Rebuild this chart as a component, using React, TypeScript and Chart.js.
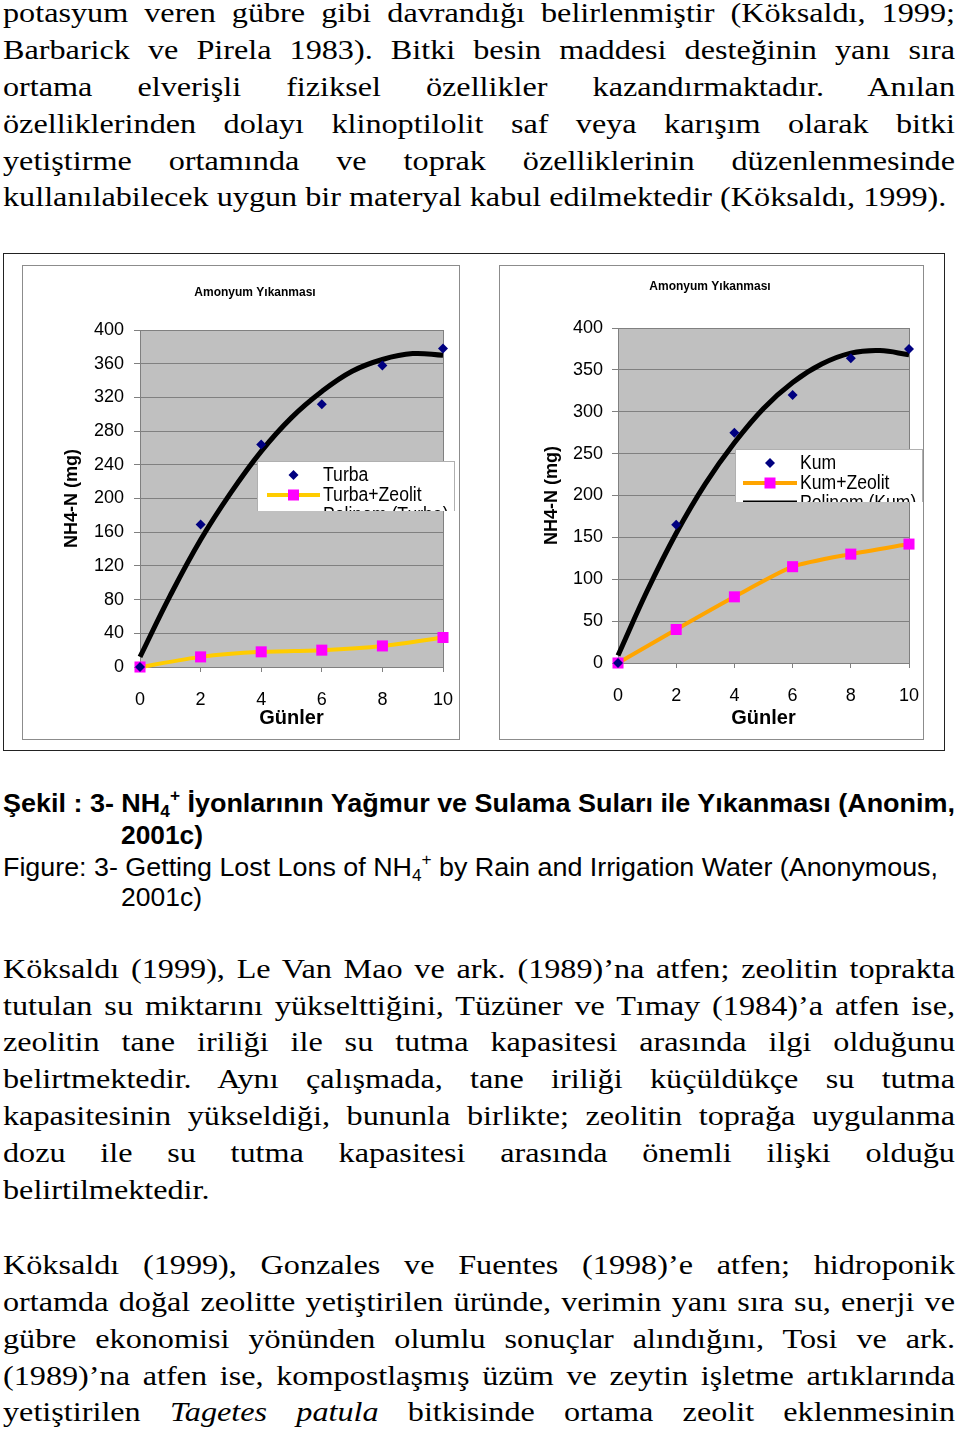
import React, { useEffect, useRef } from 'react';
import { Chart, registerables } from 'chart.js';

Chart.register(...registerables);

// ---------- data ----------
const days = [0, 2, 4, 6, 8, 10];
const trendDays = [0, 1, 2, 3, 4, 5, 6, 7, 8, 9, 10];

const turba = [0, 169, 264, 312, 358, 378];
const turbaZeolit = [0, 12, 18, 20, 25, 35];
const turbaTrend = [12, 85, 151, 207, 256, 296, 327, 351, 365, 372, 370];

const kum = [0, 165, 275, 320, 364, 375];
const kumZeolit = [0, 40, 79, 115, 130, 142];
const kumTrend = [9, 86, 155, 214, 263, 304, 335, 357, 370, 373, 368];

const chartTitle = 'Amonyum Yıkanması';
const xTitle = 'Günler';
const yTitle = 'NH4-N (mg)';

const para1 = [
  'potasyum veren gübre gibi davrandığı belirlenmiştir (Köksaldı, 1999;',
  'Barbarick ve Pirela 1983). Bitki besin maddesi desteğinin yanı sıra',
  'ortama elverişli fiziksel özellikler kazandırmaktadır. Anılan',
  'özelliklerinden dolayı klinoptilolit saf veya karışım olarak bitki',
  'yetiştirme ortamında ve toprak özelliklerinin düzenlenmesinde',
  'kullanılabilecek uygun bir materyal kabul edilmektedir (Köksaldı, 1999).',
];
const para2 = [
  'Köksaldı (1999), Le Van Mao ve ark. (1989)’na atfen; zeolitin toprakta',
  'tutulan su miktarını yükselttiğini, Tüzüner ve Tımay (1984)’a atfen ise,',
  'zeolitin tane iriliği ile su tutma kapasitesi arasında ilgi olduğunu',
  'belirtmektedir. Aynı çalışmada, tane iriliği küçüldükçe su tutma',
  'kapasitesinin yükseldiği, bununla birlikte; zeolitin toprağa uygulanma',
  'dozu ile su tutma kapasitesi arasında önemli ilişki olduğu',
  'belirtilmektedir.',
];
const para3 = [
  'Köksaldı (1999), Gonzales ve Fuentes (1998)’e atfen; hidroponik',
  'ortamda doğal zeolitte yetiştirilen üründe, verimin yanı sıra su, enerji ve',
  'gübre ekonomisi yönünden olumlu sonuçlar alındığını, Tosi ve ark.',
  '(1989)’na atfen ise, kompostlaşmış üzüm ve zeytin işletme artıklarında',
];

const CHART_FONT = "'Liberation Sans', Arial, sans-serif";

const toPts = (xs: number[], ys: number[]) => xs.map((x, i) => ({ x, y: ys[i] }));

// ---------- plugins ----------
const plotFrame = {
  id: 'plotFrame',
  beforeDraw(chart: any) {
    const { ctx, chartArea: a } = chart;
    ctx.save();
    ctx.fillStyle = '#c0c0c0';
    ctx.fillRect(a.left, a.top, a.right - a.left, a.bottom - a.top);
    ctx.restore();
  },
  beforeDatasetsDraw(chart: any) {
    const { ctx, chartArea: a } = chart;
    ctx.save();
    ctx.strokeStyle = '#808080';
    ctx.lineWidth = 1;
    ctx.strokeRect(Math.round(a.left) + 0.5, Math.round(a.top) + 0.5, Math.round(a.right - a.left), Math.round(a.bottom - a.top));
    ctx.restore();
  },
};

const topTitle = {
  id: 'topTitle',
  afterDraw(chart: any, _args: any, o: any) {
    const { ctx } = chart;
    ctx.save();
    ctx.font = `bold 12px ${CHART_FONT}`;
    ctx.fillStyle = '#000';
    ctx.textAlign = 'center';
    ctx.textBaseline = 'middle';
    ctx.fillText(o.text, o.x, o.y);
    ctx.restore();
  },
};

const boxLegend = {
  id: 'boxLegend',
  afterDraw(chart: any, _args: any, o: any) {
    const { ctx } = chart;
    ctx.save();
    ctx.beginPath();
    ctx.rect(o.x, o.y, o.w, o.h);
    ctx.clip();
    ctx.fillStyle = '#ffffff';
    ctx.fillRect(o.x, o.y, o.w, o.h);
    ctx.strokeStyle = '#b0b0b0';
    ctx.lineWidth = 1;
    ctx.strokeRect(o.x + 0.5, o.y + 0.5, o.w - 1, o.h + 20);
    ctx.font = `20px ${CHART_FONT}`;
    ctx.textBaseline = 'middle';
    ctx.textAlign = 'left';
    chart.data.datasets.forEach((ds: any, i: number) => {
      const cy = o.rowY + i * o.rowH;
      if (ds.showLine) {
        ctx.strokeStyle = ds.borderColor;
        ctx.lineWidth = ds.borderWidth;
        ctx.beginPath();
        ctx.moveTo(o.lineX0, cy);
        ctx.lineTo(o.lineX1, cy);
        ctx.stroke();
      }
      const mx = (o.lineX0 + o.lineX1) / 2;
      if (ds.pointRadius > 0) {
        ctx.fillStyle = ds.pointBackgroundColor;
        if (ds.pointStyle === 'rectRot') {
          const r = 5;
          ctx.beginPath();
          ctx.moveTo(mx, cy - r);
          ctx.lineTo(mx + r, cy);
          ctx.lineTo(mx, cy + r);
          ctx.lineTo(mx - r, cy);
          ctx.closePath();
          ctx.fill();
        } else {
          ctx.fillRect(mx - 5.5, cy - 5.5, 11, 11);
        }
      }
      ctx.fillStyle = '#000';
      ctx.save();
      ctx.translate(o.textX, cy);
      ctx.scale(0.88, 1);
      ctx.fillText(ds.label, 0, 0);
      ctx.restore();
    });
    ctx.restore();
  },
};

type Cfg = {
  names: string[];
  scatter: number[];
  zeolit: number[];
  trend: number[];
  lineColor: string;
  step: number;
  padTop: number;
  padRight: number;
  yW: number;
  xH: number;
  yTitlePad: number;
  yTickPad: number;
  title: { x: number; y: number };
  legend: any;
};

function buildConfig(c: Cfg): any {
  return {
    type: 'scatter',
    data: {
      datasets: [
        {
          label: c.names[0],
          data: toPts(days, c.scatter),
          showLine: false,
          pointStyle: 'rectRot',
          pointRadius: 5,
          pointBackgroundColor: '#000080',
          pointBorderColor: '#000080',
          pointBorderWidth: 0,
          backgroundColor: '#000080',
          borderColor: '#000080',
          clip: false,
          order: 0,
        },
        {
          label: c.names[1],
          data: toPts(days, c.zeolit),
          showLine: true,
          borderColor: c.lineColor,
          backgroundColor: c.lineColor,
          borderWidth: 4,
          pointStyle: 'rect',
          pointRadius: 7.8,
          pointBackgroundColor: '#ff00ff',
          pointBorderColor: '#ff00ff',
          pointBorderWidth: 0,
          tension: 0.2,
          clip: false,
          order: 2,
        },
        {
          label: c.names[2],
          data: toPts(trendDays, c.trend),
          showLine: true,
          borderColor: '#000000',
          backgroundColor: '#000000',
          borderWidth: 5,
          pointRadius: 0,
          tension: 0.4,
          clip: false,
          order: 1,
        },
      ],
    },
    options: {
      animation: false,
      responsive: false,
      maintainAspectRatio: false,
      devicePixelRatio: 1,
      events: [],
      layout: { padding: { top: c.padTop, right: c.padRight, bottom: 0, left: 0 } },
      plugins: {
        legend: { display: false },
        tooltip: { enabled: false },
        title: { display: false },
        topTitle: { text: chartTitle, x: c.title.x, y: c.title.y },
        boxLegend: c.legend,
      },
      scales: {
        x: {
          type: 'linear',
          min: 0,
          max: 10,
          ticks: { stepSize: 2, color: '#000', padding: 17, font: { family: CHART_FONT, size: 18 } },
          grid: { drawOnChartArea: false, drawTicks: true, tickLength: 5, color: '#808080' },
          border: { display: true, color: '#808080' },
          title: {
            display: true,
            text: xTitle,
            color: '#000',
            font: { family: CHART_FONT, size: 20, weight: 'bold' },
            padding: { top: 0, bottom: 9 },
          },
          afterFit: (s: any) => {
            s.height = c.xH;
            s.paddingLeft = 0;
            s.paddingRight = 0;
          },
        },
        y: {
          type: 'linear',
          min: 0,
          max: 400,
          ticks: { stepSize: c.step, color: '#000', padding: c.yTickPad, font: { family: CHART_FONT, size: 18 } },
          grid: { color: '#808080', tickLength: 6 },
          border: { display: true, color: '#808080' },
          title: {
            display: true,
            text: yTitle,
            color: '#000',
            font: { family: CHART_FONT, size: 18, weight: 'bold' },
            padding: { top: c.yTitlePad, bottom: 0 },
          },
          afterFit: (s: any) => {
            s.width = c.yW;
            s.paddingTop = 0;
            s.paddingBottom = 0;
          },
        },
      },
    },
    plugins: [plotFrame, topTitle, boxLegend],
  };
}

const leftCfg: Cfg = {
  names: ['Turba', 'Turba+Zeolit', 'Polinom (Turba)'],
  scatter: turba,
  zeolit: turbaZeolit,
  trend: turbaTrend,
  lineColor: '#ffcc00',
  step: 40,
  padTop: 64,
  padRight: 16,
  yW: 117,
  xH: 72,
  yTitlePad: 38.2,
  yTickPad: 10,
  title: { x: 232, y: 27 },
  legend: { x: 234, y: 195, w: 198, h: 50, rowY: 209, rowH: 20, lineX0: 244, lineX1: 297, textX: 300 },
};

const rightCfg: Cfg = {
  names: ['Kum', 'Kum+Zeolit', 'Polinom (Kum)'],
  scatter: kum,
  zeolit: kumZeolit,
  trend: kumTrend,
  lineColor: '#ffa500',
  step: 50,
  padTop: 62,
  padRight: 14,
  yW: 118,
  xH: 76,
  yTitlePad: 41.2,
  yTickPad: 9,
  title: { x: 210, y: 21 },
  legend: { x: 235, y: 183, w: 188, h: 53, rowY: 197, rowH: 20, lineX0: 243, lineX1: 297, textX: 300 },
};

function ChartBox({ cfg, left, top, width, height }: { cfg: Cfg; left: number; top: number; width: number; height: number }) {
  const ref = useRef<HTMLCanvasElement | null>(null);
  useEffect(() => {
    if (!ref.current) return;
    const chart = new Chart(ref.current, buildConfig(cfg));
    return () => chart.destroy();
  }, []);
  return (
    <div
      style={{
        position: 'absolute',
        left,
        top,
        width,
        height,
        border: '1px solid #8c8c8c',
        boxSizing: 'border-box',
        background: '#fff',
      }}
    >
      <canvas
        ref={ref}
        width={width - 2}
        height={height - 2}
        style={{ position: 'absolute', left: 0, top: 0, width: width - 2, height: height - 2 }}
      />
    </div>
  );
}

const LINE_H = 36.8;
const STRETCH = 1.15;

function Paragraph({ lines, top, lastLine }: { lines: React.ReactNode[]; top: number; lastLine: boolean }) {
  return (
    <div
      style={{
        position: 'absolute',
        left: 3,
        top,
        width: 952 / STRETCH,
        transform: `scaleX(${STRETCH})`,
        transformOrigin: 'left top',
        fontFamily: "'Liberation Serif', 'Times New Roman', serif",
        fontSize: 28,
        lineHeight: `${LINE_H}px`,
        color: '#000',
      }}
    >
      {lines.map((l, i) => {
        const isLast = lastLine && i === lines.length - 1;
        return (
          <div
            key={i}
            style={{
              height: LINE_H,
              whiteSpace: 'normal',
              textAlign: isLast ? 'left' : 'justify',
              textAlignLast: isLast ? 'left' : 'justify',
            } as any}
          >
            {l}
          </div>
        );
      })}
    </div>
  );
}

export default function App() {
  useEffect(() => {
    document.body.style.margin = '0';
    document.body.style.background = '#fff';
  }, []);

  const para3Lines: React.ReactNode[] = [
    ...para3,
    <>
      yetiştirilen <i>Tagetes patula</i> bitkisinde ortama zeolit eklenmesinin
    </>,
  ];

  return (
    <div style={{ position: 'absolute', left: 0, top: 0, width: 960, height: 1435, overflow: 'hidden', background: '#fff' }}>
      <Paragraph lines={para1} top={-4.6} lastLine={true} />

      <div
        style={{
          position: 'absolute',
          left: 3,
          top: 253,
          width: 942,
          height: 498,
          border: '1px solid #222',
          boxSizing: 'border-box',
        }}
      />
      <ChartBox cfg={leftCfg} left={22} top={265} width={438} height={475} />
      <ChartBox cfg={rightCfg} left={499} top={265} width={425} height={475} />

      <svg
        width={960}
        height={140}
        style={{ position: 'absolute', left: 0, top: 780 }}
        fontFamily="'Liberation Sans', Arial, sans-serif"
        fontSize={25}
        fill="#000"
      >
        <text x={3} y={32} fontWeight="bold" textLength={952} lengthAdjust="spacingAndGlyphs">
          Şekil : 3- NH
          <tspan dy={5} fontSize={16}>4</tspan>
          <tspan dy={-16} fontSize={16}>+</tspan>
          <tspan dy={11}> İyonlarının Yağmur ve Sulama Suları ile Yıkanması (Anonim,</tspan>
        </text>
        <text x={121} y={64} fontWeight="bold" textLength={82} lengthAdjust="spacingAndGlyphs">
          2001c)
        </text>
        <text x={3} y={96} textLength={935} lengthAdjust="spacingAndGlyphs">
          Figure: 3- Getting Lost Lons of NH
          <tspan dy={5} fontSize={16}>4</tspan>
          <tspan dy={-16} fontSize={16}>+</tspan>
          <tspan dy={11}> by Rain and Irrigation Water (Anonymous,</tspan>
        </text>
        <text x={121} y={126} textLength={81} lengthAdjust="spacingAndGlyphs">
          2001c)
        </text>
      </svg>

      <Paragraph lines={para2} top={950.8} lastLine={true} />
      <Paragraph lines={para3Lines} top={1247.2} lastLine={false} />
    </div>
  );
}
